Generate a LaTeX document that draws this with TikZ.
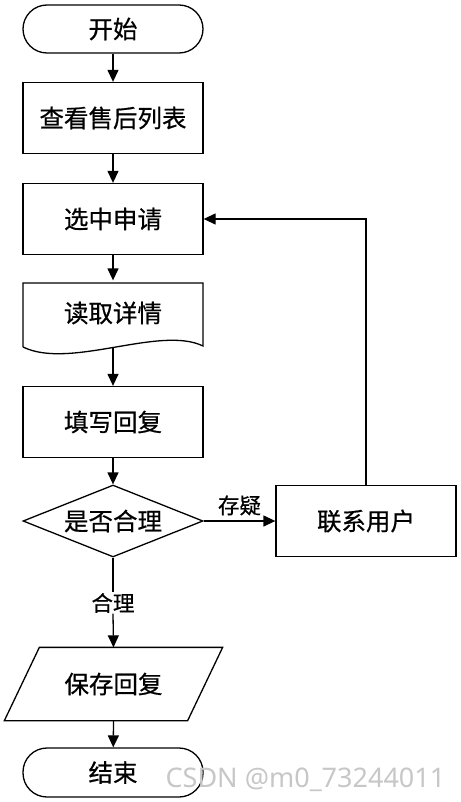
\documentclass[tikz,border=0pt]{standalone}
\usepackage{fontspec}
\setmainfont[FakeBold=0.6]{Noto Sans CJK SC}
\newfontfamily\cnfont[FakeBold=0.6]{Noto Sans CJK SC}
\newfontfamily\wmfont{Noto Sans}
\usetikzlibrary{arrows.meta,shapes.geometric}
\begin{document}
\begin{tikzpicture}[x=1pt,y=-1pt,
  line width=1.3pt,
  every node/.style={font=\cnfont\fontsize{24.5}{24.5}\selectfont, inner sep=0pt},
  procbox/.style={draw, minimum width=180pt, minimum height=71pt},
  term/.style={draw, rounded corners=24pt, minimum width=180pt, minimum height=48pt},
  decis/.style={draw, diamond, aspect=2.5, minimum width=180pt, minimum height=72pt},
  ghost/.style={minimum width=180pt, minimum height=64pt},
  lbl/.style={font=\cnfont\fontsize{21.5}{21.5}\selectfont},
  arr/.style={-{Triangle[length=12pt,width=11pt]}}
]
\useasboundingbox (0,0) rectangle (460,802);
\node[term] (start) at (113,29) {开始};
\node[procbox] (list) at (113,118) {查看售后列表};
\node[procbox] (select) at (113,219) {选中申请};
% document shape
\node[ghost] (doc) at (113,313) {读取详情};
\draw (23,347) -- (23,283) -- (203,283) -- (203,346)
  .. controls (160,325) and (70,370) .. (23,347);
\coordinate (docb) at (113,347);
\node[procbox] (reply) at (113,422) {填写回复};
\node[decis] (dec) at (113,521) {是否合理};
\node[procbox] (contact) at (366,521) {联系用户};
\node[lbl] (ok) at (113,603) {合理};
% parallelogram
\node[minimum width=182pt, minimum height=72pt] (save) at (113.5,684) {保存回复};
\draw ([xshift=17.5pt]save.north west) -- ([xshift=17.5pt]save.north east)
  -- ([xshift=-17.5pt]save.south east) -- ([xshift=-17.5pt]save.south west) -- cycle;
\node[term, minimum height=49pt] (end) at (113,772.5) {结束};
% connectors
\draw[arr] (start) -- (list);
\draw[arr] (list) -- (select);
\draw[arr] (select) -- (doc.north);
\draw[arr] (docb) -- (reply);
\draw[arr] (reply) -- (dec);
\draw[arr] (dec) -- node[lbl, above=5pt] (q) {存疑} (contact);
\draw[arr] (contact.north) |- (select.east);
\draw (dec.south) -- (ok.north);
\draw[arr] (ok.south) -- (save.north);
\draw[arr] (save.south) -- (end);
% watermark
\node[font=\wmfont\fontsize{27}{27}\selectfont, text=black!22, anchor=base west] (wm) at (165,787) {CSDN @m0\_73244011};
\end{tikzpicture}
\end{document}
